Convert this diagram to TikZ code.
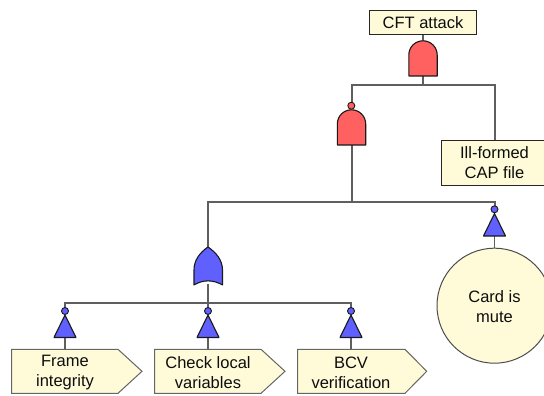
\documentclass[tikz,border=0pt]{standalone}
\usepackage{fontspec}
\setmainfont{Liberation Sans}
\definecolor{boxfill}{HTML}{FFFBD9}
\definecolor{gatered}{HTML}{FF6060}
\definecolor{gateblue}{HTML}{6060FF}
\definecolor{wire}{HTML}{5F5F5F}
\tikzset{
  evbox/.style={draw=black!85,line width=1pt,fill=boxfill,align=center,font=\fontsize{16.5}{20}\selectfont,inner sep=0pt,anchor=center},
  gateline/.style={draw=black!90,line width=1.1pt,line join=round},
  conn/.style={draw=wire,line width=2pt},
  thinconn/.style={draw=wire,line width=1.6pt},
  lbl/.style={align=center,font=\fontsize{16.5}{20}\selectfont,inner sep=0pt},
  bubble/.style={circle,draw=black!90,line width=0.9pt,minimum size=7pt,inner sep=0pt},
  leafshape/.style={draw=black!60,line width=1pt,fill=boxfill}
}
\newcommand{\andgate}[1]{% #1 = centre coordinate of the base
  \path[gateline,fill=gatered,shift={(#1)}] (-14.2,0) -- (-14.2,-21) arc[start angle=180,end angle=360,radius=14.2] -- (14.2,0) -- cycle;}
\newcommand{\notgate}[1]{% #1 = centre of base
  \path[gateline,fill=gateblue,shift={(#1)}] (-11,0) -- (0,-22.5) -- (11,0) -- cycle;}
\begin{document}
\begin{tikzpicture}[x=1pt,y=-1pt,every node/.append style={text=black!95}]
\useasboundingbox (0,0) rectangle (544,396);
\clip (0,0) rectangle (544,396);
% named anchors
\coordinate (top1) at (423,85.5);
\coordinate (top2) at (351.5,202);
\coordinate (top3) at (208,303);
\coordinate (a1) at (423,76);
\coordinate (a2) at (351.5,145);
\coordinate (o1) at (208,284);
\coordinate (n1) at (65,337.5);
\coordinate (n2) at (208,337.5);
\coordinate (n3) at (351,337.5);
\coordinate (n4) at (494.5,236);
% leaf shapes
\node[evbox,minimum width=106.5pt,minimum height=24pt] (cft) at (423,22.5) {CFT attack};
\node[evbox,minimum width=107pt,minimum height=44.5pt] (ill) at (494.5,163) {Ill-formed\\CAP file};
\node[circle,draw=black!70,line width=1pt,fill=boxfill,minimum size=115pt,inner sep=0pt] (card) at (494.5,305.7) {};
\node[lbl] (cardl) at (494.5,306.5) {Card is\\mute};
\path[leafshape] (11.7,349.3) -- (118,349.3) -- (142,371.3) -- (118,393.3) -- (11.7,393.3) -- cycle;
\path[leafshape] (154.7,349.3) -- (261,349.3) -- (285,371.3) -- (261,393.3) -- (154.7,393.3) -- cycle;
\path[leafshape] (297.7,349.3) -- (405,349.3) -- (426.7,371.3) -- (405,393.3) -- (297.7,393.3) -- cycle;
\node[lbl] (fl) at (65,372.5) {Frame\\integrity};
\node[lbl] (cl) at (208,372.5) {Check local\\variables};
\node[lbl] (bl) at (351,372.5) {BCV\\verification};
% connectors
\draw[thinconn] (cft.south) -- ++(0,6);
\draw[conn] (a1) -- (top1);
\draw[conn] (351.5,105) |- (top1) -| (ill.north);
\draw[conn] (a2) -- (top2);
\draw[conn] (208,250) |- (top2) -| (494.5,209);
\draw[conn] (o1) -- (top3);
\draw[conn] (65,311) |- (top3) -| (351,311);
\draw[conn] (top3) -- (208,311);
\draw[thinconn] (n1) -- (65,349.3);
\draw[thinconn] (n2) -- (208,349.3);
\draw[thinconn] (n3) -- (351,349.3);
\draw[thinconn] (n4) -- (card.north);
% gates
\andgate{a1}
\andgate{a2}
\node[bubble,fill=gatered] (b0) at (351.3,105.7) {};
\path[gateline,fill=gateblue] (194,285) -- (194,270) .. controls (194,260) and (200,252.5) .. (208,247) .. controls (216,252.5) and (222.5,260) .. (222.5,270) -- (222.5,285) .. controls (213,279.5) and (203,279.5) .. (194,285) -- cycle;
\notgate{n1}\notgate{n2}\notgate{n3}\notgate{n4}
\node[bubble,fill=gateblue] (b1) at (65,311) {};
\node[bubble,fill=gateblue] (b2) at (208,311) {};
\node[bubble,fill=gateblue] (b3) at (351,311) {};
\node[bubble,fill=gateblue] (b4) at (494.5,209.3) {};
\end{tikzpicture}
\end{document}
